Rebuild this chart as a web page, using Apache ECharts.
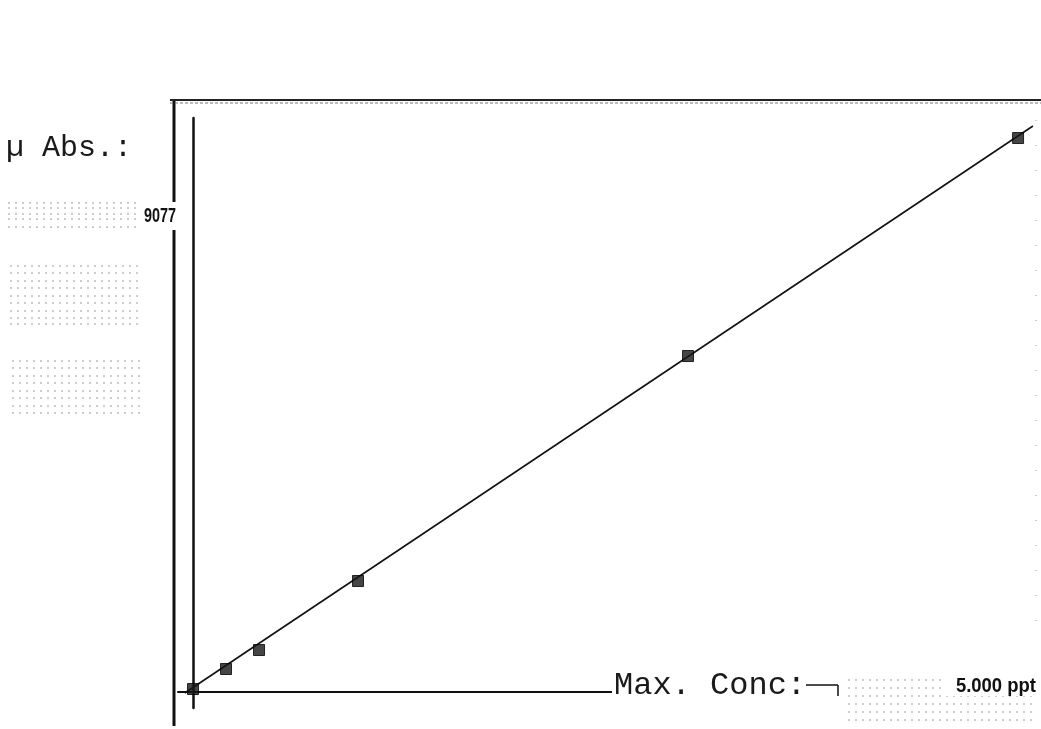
<!DOCTYPE html>
<html>
<head>
<meta charset="utf-8">
<title>Calibration</title>
<script src="https://cdn.jsdelivr.net/npm/echarts@6/dist/echarts.min.js"></script>
<style>
  html, body { margin: 0; padding: 0; background: #fff; }
  #main { width: 1041px; height: 729px; }
</style>
</head>
<body>
<div id="main"></div>
<script>
// standards (ppt) and measured micro-absorbance
const concPpt = [0, 0.2, 0.4, 1, 3, 5];
const absMicro = [49, 377, 688, 1819, 5505, 9077];
// regression line
const fitConc = [-0.05, 5.09];
const fitAbs = [-16, 9274];
const yLabel = 'µ Abs.:';
const xLabel = 'Max. Conc:';
const maxAbsText = '9077';
const maxConcText = '5.000 ppt';

let chart = echarts.init(document.getElementById('main'));

const mono = 'Liberation Mono, Courier New, monospace';
const sans = 'Liberation Sans, Arial, sans-serif';

// faint dotted "screen" fields of the scanned form
function dither(x1, x2, ys) {
  return ys.map(y => ({
    type: 'line', z: 5, silent: true,
    shape: { x1: x1, y1: y, x2: x2, y2: y },
    style: { stroke: '#9a9a9a', lineWidth: 1, lineDash: [2, 5] }
  }));
}

let graphics = [].concat(
  dither(8, 140, [203, 208, 214, 219, 227]),
  dither(10, 143, [266, 273, 281, 288, 296, 303, 311, 318, 324]),
  dither(12, 143, [361, 368, 376, 383, 391, 398, 406, 413]),
  [
    // frame of the form
    { type: 'line', z: 6, shape: { x1: 174, y1: 100, x2: 174, y2: 726 }, style: { stroke: '#111', lineWidth: 3 } },
    { type: 'line', z: 6, shape: { x1: 170, y1: 100, x2: 1041, y2: 100 }, style: { stroke: '#222', lineWidth: 2 } },
    { type: 'line', z: 6, shape: { x1: 170, y1: 103, x2: 1041, y2: 103 }, style: { stroke: '#777', lineWidth: 1, lineDash: [3, 2] } },
    { type: 'line', z: 6, shape: { x1: 1036, y1: 120, x2: 1036, y2: 640 }, style: { stroke: '#999', lineWidth: 1, lineDash: [1, 24] } },
    // y label
    { type: 'text', z: 10, style: { text: yLabel, x: 6, y: 148, font: '30px ' + mono, fill: '#1a1a1a', verticalAlign: 'middle' } },
    // max abs field
    { type: 'rect', z: 9, shape: { x: 142, y: 202, width: 36, height: 28 }, style: { fill: '#fff' } },
    { type: 'text', z: 10, x: 176, y: 216, scaleX: 0.72, style: { text: maxAbsText, x: 0, y: 0, font: 'bold 20px ' + sans, fill: '#111', align: 'right', verticalAlign: 'middle' } },
    // cover the axis behind the x label and the conc field
    { type: 'rect', z: 9, shape: { x: 612, y: 676, width: 429, height: 53 }, style: { fill: '#fff' } },
    { type: 'text', z: 10, style: { text: xLabel, x: 614, y: 686, font: '32px ' + mono, fill: '#1a1a1a', verticalAlign: 'middle' } },
    { type: 'line', z: 10, shape: { x1: 806, y1: 685, x2: 838, y2: 685 }, style: { stroke: '#111', lineWidth: 1.5 } },
    { type: 'line', z: 10, shape: { x1: 838, y1: 685, x2: 838, y2: 696 }, style: { stroke: '#111', lineWidth: 1.5 } }
  ],
  dither(848, 1035, [680, 688, 696, 704, 712, 720]).map(g => Object.assign(g, { z: 10 })),
  [
    { type: 'rect', z: 11, shape: { x: 942, y: 676, width: 96, height: 20 }, style: { fill: '#fff' } },
    { type: 'text', z: 12, x: 1036, y: 686, scaleX: 0.88, style: { text: maxConcText, x: 0, y: 0, font: 'bold 21px ' + sans, fill: '#111', align: 'right', verticalAlign: 'middle' } }
  ]
);

let option = {
  backgroundColor: '#fff',
  animation: false,
  grid: { left: 178, right: 0, top: 118, bottom: 21 },
  xAxis: {
    type: 'value',
    min: -0.091,
    max: 5.139,
    axisLine: { show: true, onZero: true, lineStyle: { color: '#111', width: 2 } },
    axisTick: { show: false },
    axisLabel: { show: false },
    splitLine: { show: false }
  },
  yAxis: {
    type: 'value',
    min: -262,
    max: 9405,
    axisLine: { show: true, onZero: true, lineStyle: { color: '#111', width: 2.5 } },
    axisTick: { show: false },
    axisLabel: { show: false },
    splitLine: { show: false }
  },
  series: [
    {
      name: 'fit',
      type: 'line',
      data: fitConc.map((c, i) => [c, fitAbs[i]]),
      showSymbol: false,
      lineStyle: { color: '#111', width: 1.6 },
      z: 3
    },
    {
      name: 'standards',
      type: 'scatter',
      data: concPpt.map((c, i) => [c, absMicro[i]]),
      symbol: 'rect',
      symbolSize: 11,
      itemStyle: { color: '#161616', borderColor: '#000', borderWidth: 1 },
      z: 4
    }
  ],
  graphic: graphics
};

option && chart.setOption(option);
</script>
</body>
</html>
